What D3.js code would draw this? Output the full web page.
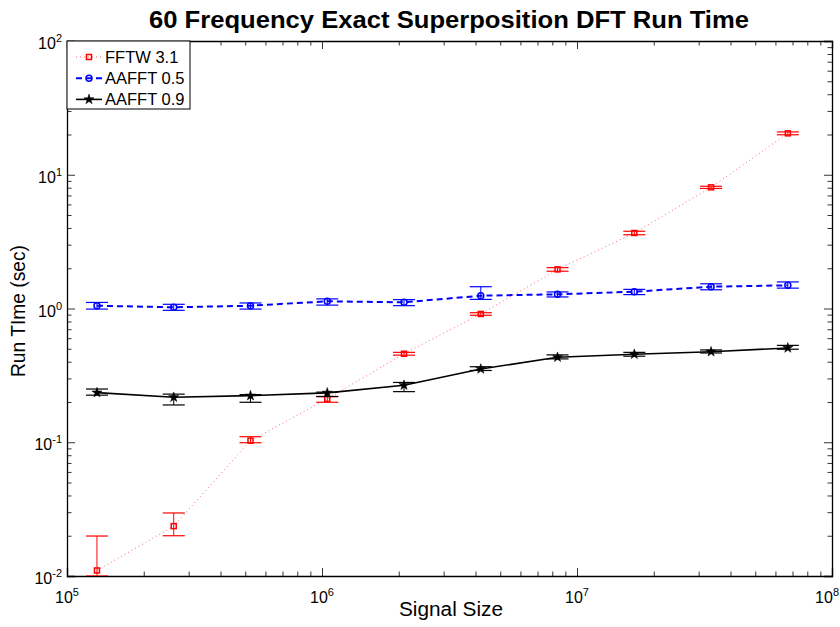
<!DOCTYPE html>
<html>
<head>
<meta charset="utf-8">
<script src="https://cdn.jsdelivr.net/npm/d3@7"></script>
<style>
  body { margin: 0; background: #fff; }
  svg { font-family: "Liberation Sans", Arial, Helvetica, sans-serif; }
</style>
</head>
<body>
<svg width="840" height="627"></svg>
<script>
// signal sizes 2^17 .. 2^26
const sizes = [131072, 262144, 524288, 1048576, 2097152, 4194304, 8388608, 16777216, 33554432, 67108864];

const fftwMean = [0.0110, 0.0236, 0.1027, 0.211, 0.459, 0.91, 1.96, 3.67, 8.05, 20.4];
const fftwLow  = [0.0100, 0.0200, 0.0992, 0.199, 0.448, 0.89, 1.90, 3.56, 7.90, 19.9];
const fftwHigh = [0.0199, 0.0296, 0.1100, 0.219, 0.470, 0.93, 2.02, 3.78, 8.20, 20.9];

const aa05Mean = [1.049, 1.021, 1.049, 1.132, 1.112, 1.247, 1.277, 1.336, 1.455, 1.491];
const aa05Low  = [0.990, 0.969, 0.990, 1.060, 1.050, 1.170, 1.220, 1.270, 1.380, 1.420];
const aa05High = [1.110, 1.075, 1.100, 1.180, 1.165, 1.455, 1.330, 1.390, 1.530, 1.580];

const aa09Mean = [0.235, 0.217, 0.223, 0.234, 0.267, 0.353, 0.432, 0.455, 0.475, 0.507];
const aa09Low  = [0.225, 0.190, 0.199, 0.220, 0.239, 0.344, 0.420, 0.440, 0.465, 0.496];
const aa09High = [0.250, 0.229, 0.227, 0.237, 0.280, 0.367, 0.450, 0.470, 0.490, 0.530];

const xMajor = [1e5, 1e6, 1e7, 1e8];
const yMajor = [1e-2, 1e-1, 1e0, 1e1, 1e2];

const seriesNames = ["FFTW 3.1", "AAFFT 0.5", "AAFFT 0.9"];

const svg = d3.select("svg");

const plotLeft = 67, plotRight = 832, plotTop = 41, plotBottom = 576;

const x = d3.scaleLog().domain([1e5, 1e8]).range([plotLeft, plotRight]);
const y = d3.scaleLog().domain([1e-2, 1e2]).range([plotBottom, plotTop]);

// minor ticks 2..9 in every decade
function minors(major) {
    const out = [];
    for (let i = 0; i < major.length - 1; i++) {
        for (let k = 2; k <= 9; k++) out.push(major[i] * k);
    }
    return out;
}
const xMinor = minors(xMajor);
const yMinor = minors(yMajor);

const series = [
    { name: seriesNames[0], mean: fftwMean, low: fftwLow, high: fftwHigh, color: "#ff0000", dash: "1,3", width: 1, lineOpacity: 0.6, marker: "square" },
    { name: seriesNames[1], mean: aa05Mean, low: aa05Low, high: aa05High, color: "#0000ff", dash: "6,4", width: 2, lineOpacity: 1, marker: "circle" },
    { name: seriesNames[2], mean: aa09Mean, low: aa09Low, high: aa09High, color: "#000000", dash: null, width: 1.6, lineOpacity: 1, marker: "star" }
];

// axes: ticks point inward on all four sides
function drawAxis(axisFn, pos, transform) {
    svg.append("g")
        .attr("transform", transform)
        .call(axisFn(pos.scale).tickValues(pos.major).tickSize(-8).tickFormat(""))
        .call(g => g.select(".domain").attr("stroke-width", 1.3))
        .call(g => g.selectAll(".tick line").attr("stroke-width", 0.8));
    svg.append("g")
        .attr("transform", transform)
        .call(axisFn(pos.scale).tickValues(pos.minor).tickSize(-4.5).tickFormat(""))
        .call(g => g.select(".domain").remove())
        .call(g => g.selectAll(".tick line").attr("stroke-width", 0.8));
}
const xs = { scale: x, major: xMajor, minor: xMinor };
const ys = { scale: y, major: yMajor, minor: yMinor };
drawAxis(d3.axisBottom, xs, `translate(0,${plotBottom})`);
drawAxis(d3.axisTop, xs, `translate(0,${plotTop})`);
drawAxis(d3.axisLeft, ys, `translate(${plotLeft},0)`);
drawAxis(d3.axisRight, ys, `translate(${plotRight},0)`);

// tick labels 10^n (last x label kept inside the page)
svg.append("g").selectAll("text")
    .data(xMajor).enter().append("text")
    .attr("x", (d, i) => i === xMajor.length - 1 ? 839 : x(d))
    .attr("y", 603)
    .attr("text-anchor", (d, i) => i === xMajor.length - 1 ? "end" : "middle")
    .attr("font-size", 16)
    .text("10")
    .append("tspan")
    .attr("dy", -7)
    .attr("font-size", 11)
    .text(d => Math.round(Math.log10(d)));

svg.append("g").selectAll("text")
    .data(yMajor).enter().append("text")
    .attr("x", 62)
    .attr("y", d => y(d) + 8)
    .attr("text-anchor", "end")
    .attr("font-size", 16)
    .text("10")
    .append("tspan")
    .attr("dy", -7)
    .attr("font-size", 11)
    .text(d => Math.round(Math.log10(d)));

// clip for data
svg.append("clipPath").attr("id", "plot")
    .append("rect").attr("x", plotLeft).attr("y", plotTop)
    .attr("width", plotRight - plotLeft).attr("height", plotBottom - plotTop);

const plot = svg.append("g").attr("clip-path", "url(#plot)");

const line = d3.line().x(d => x(d[0])).y(d => y(d[1]));
const capHalf = 11;

function drawMarker(g, type, color, cx, cy) {
    if (type === "square") {
        g.append("rect").attr("x", cx - 2.5).attr("y", cy - 2.5).attr("width", 5).attr("height", 5)
            .attr("fill", "none").attr("stroke", color).attr("stroke-width", 1.5);
    } else if (type === "circle") {
        g.append("circle").attr("cx", cx).attr("cy", cy).attr("r", 3)
            .attr("fill", "none").attr("stroke", color).attr("stroke-width", 1.5);
    } else {
        g.append("path").attr("d", d3.symbol().type(d3.symbolStar).size(32)())
            .attr("transform", `translate(${cx},${cy})`)
            .attr("fill", color).attr("stroke", color).attr("stroke-width", 0.5);
    }
}

series.forEach(s => {
    const g = plot.append("g");
    // error bars
    sizes.forEach((sz, i) => {
        const cx = x(sz);
        g.append("line").attr("x1", cx).attr("x2", cx)
            .attr("y1", y(s.low[i])).attr("y2", y(s.high[i]))
            .attr("stroke", s.color).attr("stroke-width", 1);
        [s.low[i], s.high[i]].forEach(v => {
            g.append("line").attr("x1", cx - capHalf).attr("x2", cx + capHalf)
                .attr("y1", y(v)).attr("y2", y(v))
                .attr("stroke", s.color).attr("stroke-width", 1.2);
        });
    });
    g.append("path")
        .datum(sizes.map((sz, i) => [sz, s.mean[i]]))
        .attr("d", line)
        .attr("fill", "none")
        .attr("stroke", s.color)
        .attr("stroke-width", s.width)
        .attr("stroke-opacity", s.lineOpacity)
        .attr("stroke-dasharray", s.dash);
    sizes.forEach((sz, i) => drawMarker(g, s.marker, s.color, x(sz), y(s.mean[i])));
});

// legend
const legend = svg.append("g");
legend.append("rect").attr("x", 67).attr("y", 41).attr("width", 123).attr("height", 68)
    .attr("fill", "#fff").attr("stroke", "#000").attr("stroke-width", 1);
series.forEach((s, i) => {
    const ly = 57 + i * 21.2;
    legend.append("line").attr("x1", 76).attr("x2", 102).attr("y1", ly).attr("y2", ly)
        .attr("stroke", s.color).attr("stroke-width", s.width)
        .attr("stroke-opacity", s.lineOpacity)
        .attr("stroke-dasharray", s.dash);
    drawMarker(legend, s.marker, s.color, 89, ly);
    legend.append("text").attr("x", 105).attr("y", ly + 6)
        .attr("font-size", 16.5).text(s.name);
});

// title and axis labels
svg.append("text").attr("x", 449).attr("y", 28)
    .attr("text-anchor", "middle").attr("font-size", 24).attr("font-weight", "bold")
    .attr("textLength", 600).attr("lengthAdjust", "spacingAndGlyphs")
    .text("60 Frequency Exact Superposition DFT Run Time");

svg.append("text").attr("x", 451).attr("y", 616)
    .attr("text-anchor", "middle").attr("font-size", 20)
    .attr("textLength", 104).attr("lengthAdjust", "spacingAndGlyphs")
    .text("Signal Size");

svg.append("text")
    .attr("transform", "translate(25,311) rotate(-90)")
    .attr("text-anchor", "middle").attr("font-size", 19.5)
    .attr("textLength", 132).attr("lengthAdjust", "spacingAndGlyphs")
    .text("Run TIme (sec)");
</script>
</body>
</html>
